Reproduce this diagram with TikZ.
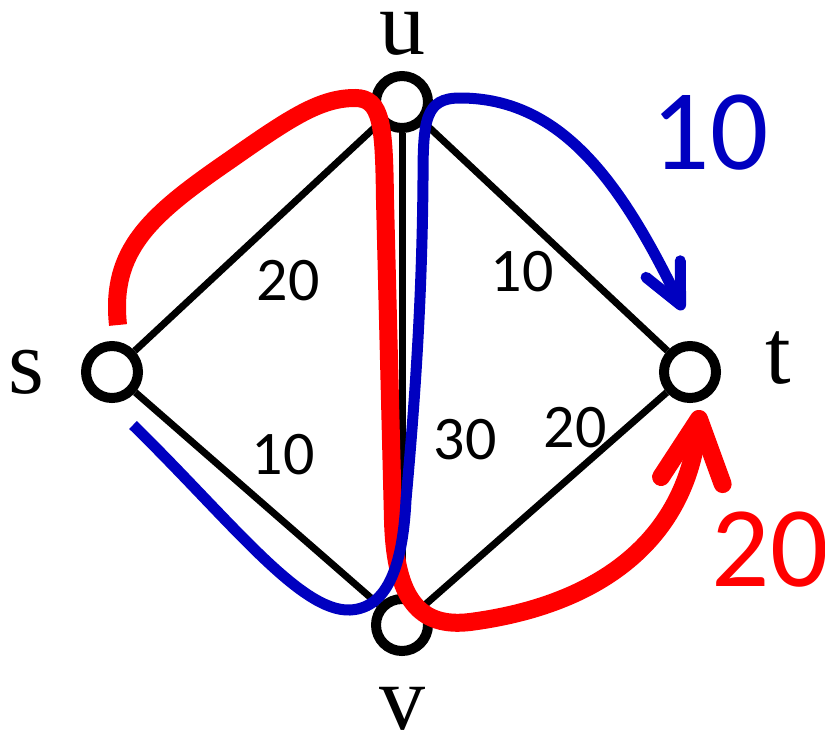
\documentclass[tikz,border=0pt]{standalone}
\usepackage{fontspec}
\setmainfont{Liberation Serif}
\newfontfamily\calibri{Carlito}
\usepackage{xcolor}
\definecolor{FlowRed}{HTML}{FF0000}
\definecolor{FlowBlue}{HTML}{0000C0}
\usepackage{tikz}
\usetikzlibrary{arrows.meta, positioning, backgrounds}
\tikzstyle{vertex} = [circle, draw=black, fill=white, line width=10pt, minimum size=52pt, inner sep=0pt]
\tikzstyle{edge} = [line width=7pt, black]
\tikzstyle{vlabel} = [inner sep=0pt, font=\fontsize{92}{92}\selectfont]
\tikzstyle{weight} = [inner sep=0pt, font=\calibri\fontsize{62}{62}\selectfont]
\tikzstyle{flowval} = [inner sep=0pt, font=\calibri\fontsize{115}{115}\selectfont]
\tikzstyle{redflow} = [line width=18pt, color=FlowRed, -{Straight Barb[length=62pt, width=62pt, round]}]
\tikzstyle{blueflow} = [line width=11pt, color=FlowBlue, -{Straight Barb[length=40pt, width=38pt, round]}]

\begin{document}
\begin{tikzpicture}[x=1pt, y=-1pt]
        \useasboundingbox (0,0) rectangle (825,734);
        % Vertices
        \node [vertex] (s) at (112,372) {};
        \node [vertex] (u) at (402,102) {};
        \node [vertex] (v) at (402,625) {};
        \node [vertex] (t) at (690,372) {};

        % Vertex names
        \node [vlabel, left=36pt of s] (slabel) {s};
        \node [vlabel, above=15pt of u] (ulabel) {u};
        \node [vlabel, below=31pt of v] (vlabel) {v};
        \node [vlabel, right=44pt of t, yshift=14pt] (tlabel) {t};

        % Capacities
        \node [weight] (wsu) at (288,281) {20};
        \node [weight] (wut) at (522,272) {10};
        \node [weight] (wsv) at (283,455) {10};
        \node [weight] (wuv) at (465,440) {30};
        \node [weight] (wvt) at (575,428) {20};

        % Edges
        \begin{scope}[on background layer]
            \draw [edge] (s) -- (u);
            \draw [edge] (s) -- (v);
            \draw [edge] (u) -- (v);
            \draw [edge] (u) -- (t);
            \draw [edge] (v) -- (t);
        \end{scope}

        % Flow paths
        \coordinate (redstart) at (118,325);
        \coordinate (redtip) at (700,410);
        \coordinate (bluestart) at (133,425);
        \coordinate (bluetip) at (683,310);
        \draw [redflow] (redstart) .. controls (110,250) and (150,215) .. (230,160)
            .. controls (290,118) and (320,98) .. (355,98)
            .. controls (382,98) and (384,125) .. (385,200)
            -- (393,520)
            .. controls (395,600) and (420,628) .. (470,622)
            .. controls (600,605) and (685,540) .. (redtip);
        \draw [blueflow] (bluestart) .. controls (230,520) and (300,612) .. (350,610)
            .. controls (390,608) and (403,560) .. (406,500)
            .. controls (415,400) and (422,300) .. (423,180)
            .. controls (423,120) and (425,98) .. (460,98)
            .. controls (560,98) and (620,180) .. (bluetip);

        % Flow values
        \node [flowval, text=FlowBlue] (fblue) at (710,133) {10};
        \node [flowval, text=FlowRed] (fred) at (770,550) {20};
    \end{tikzpicture}
\end{document}
